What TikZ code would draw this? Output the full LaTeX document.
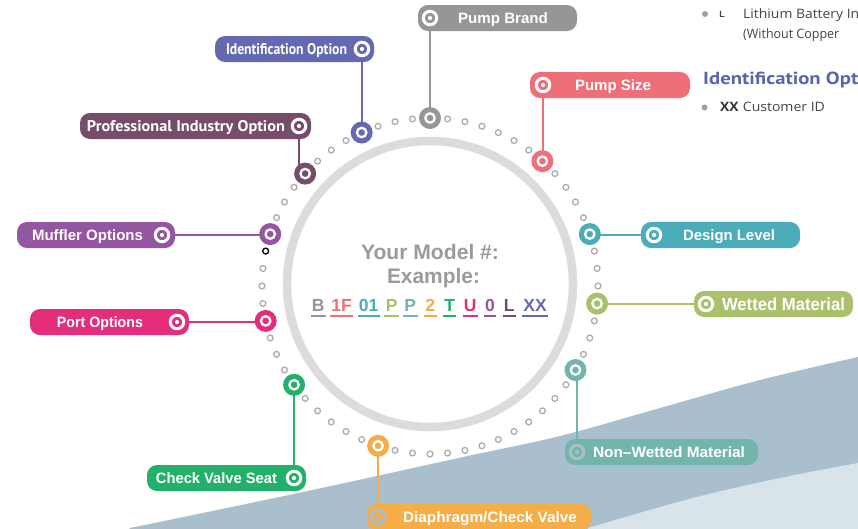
\documentclass[tikz,border=0pt]{standalone}
\usepackage{fontspec}
\usepackage{graphicx}
\setmainfont{Liberation Sans}
\newfontfamily\condf{PT Sans}
\newfontfamily\lightf{Open Sans}
\pgfdeclarelayer{bg}
\pgfdeclarelayer{mid}
\pgfsetlayers{bg,mid,main}
\definecolor{cBrand}{HTML}{969696}
\definecolor{cSize}{HTML}{EE6F78}
\definecolor{cIdent}{HTML}{6469B1}
\definecolor{cProf}{HTML}{774C69}
\definecolor{cMuff}{HTML}{9456A0}
\definecolor{cPort}{HTML}{E52E7B}
\definecolor{cDesign}{HTML}{4BACBA}
\definecolor{cWet}{HTML}{A9C16A}
\definecolor{cNonWet}{HTML}{72B6AB}
\definecolor{cDia}{HTML}{F5AD48}
\definecolor{cCheck}{HTML}{22B06B}
\definecolor{ringgray}{HTML}{DCDCDC}
\definecolor{dotgray}{HTML}{ADADAD}
\definecolor{wavedark}{HTML}{A9BFCD}
\definecolor{wavelight}{HTML}{D8E3EA}
\definecolor{txtgray}{HTML}{9B9B9B}
\definecolor{darktext}{HTML}{454545}
\definecolor{bulgray}{HTML}{A0A0A0}
\definecolor{headblue}{HTML}{5C63AF}
\newcommand\fitw[2]{\resizebox{#1pt}{\height}{#2}}
\newcommand\codeitem[4]{%
  \node[code=#2] (#1) at (#3,311.7) {#4};
  \draw[uline=#2] ([shift={(-1.2,4.3)}]#1.base west) -- ([shift={(1.2,4.3)}]#1.base east);}
\begin{document}
\begin{tikzpicture}[x=1pt,y=-1pt,
  pillbox/.style={rectangle, fill=#1, rounded corners=10pt, inner sep=0pt, minimum height=26pt},
  icon/.style={circle, inner sep=0pt, minimum size=13.5pt, line width=3pt, draw=#1,
    path picture={\fill[#1] (path picture bounding box.center) circle (2.1pt);}},
  icon/.default=white,
  marker/.style={circle, fill=#1, inner sep=0pt, minimum size=22pt,
    path picture={\draw[white, line width=2.3pt] (path picture bounding box.center) circle (4.7pt);}},
  pilltext/.style={anchor=base, inner sep=0pt, text=white, font=\bfseries\fontsize{15}{15}\selectfont},
  condtext/.style={anchor=base, inner sep=0pt, text=white, font=\condf\bfseries\fontsize{15.5}{15.5}\selectfont},
  smalldot/.style={circle, draw=#1, line width=1.3pt, minimum size=5.8pt, inner sep=0pt, fill=white},
  smalldot/.default=dotgray,
  conn/.style={draw=#1, line width=1.8pt},
  code/.style={anchor=base, inner sep=0pt, text=#1, font=\bfseries\fontsize{17.5}{17.5}\selectfont},
  uline/.style={draw=#1, line width=2pt},
  titletext/.style={anchor=base, inner sep=0pt, text=txtgray, font=\bfseries\fontsize{21}{21}\selectfont},
  sidetext/.style={anchor=base west, inner sep=0pt, text=darktext, font=\lightf\fontsize{13}{13}\selectfont},
  bullet/.style={circle, fill=bulgray, minimum size=6pt, inner sep=0pt}
]
\useasboundingbox (0,0) rectangle (858,528);

% background wave and ring
\begin{pgfonlayer}{bg}
\fill[white] (0,0) rectangle (858,528);
\fill[wavedark] plot[smooth, tension=0.6] coordinates {(130,528) (303,492) (463,457) (560,436) (660,408) (760,380) (858,357)} -- (858,540) -- (120,540) -- cycle;
\fill[wavelight] plot[smooth, tension=0.6] coordinates {(588,528) (693,498) (780,478) (858,463)} -- (858,540) -- (585,540) -- cycle;
\node[circle, draw=ringgray, line width=8.5pt, minimum size=286pt, inner sep=0pt] (ring) at (430,284) {};
\end{pgfonlayer}

% dotted circle
\foreach \a in {0,6,...,354} {
  \node[smalldot] (d\a) at ({430+168*cos(\a)},{286-168*sin(\a)}) {};
}
\node[smalldot=black] (dblack) at (d168) {};

% pills
\node[pillbox=cBrand, minimum width=159pt] (pBrand) at (497.5,18) {};
\node[icon] (iBrand) at (430,18) {};
\node[pilltext] (tBrand) at (503,23.4) {\fitw{90}{Pump Brand}};

\node[pillbox=cIdent, minimum width=159pt] (pIdent) at (294.5,49) {};
\node[icon] (iIdent) at (362,49) {};
\node[condtext] (tIdent) at (286.5,54.4) {\fitw{121}{Identification Option}};

\node[pillbox=cSize, minimum width=160pt] (pSize) at (610,85) {};
\node[icon] (iSize) at (543,85) {};
\node[pilltext] (tSize) at (613,90.4) {\fitw{76}{Pump Size}};

\node[pillbox=cProf, minimum width=231pt] (pProf) at (195.5,126) {};
\node[icon] (iProf) at (299,126) {};
\node[condtext] (tProf) at (186,131.4) {\fitw{198}{Professional Industry Option}};

\node[pillbox=cMuff, minimum width=158pt] (pMuff) at (96,235) {};
\node[icon] (iMuff) at (162,235) {};
\node[pilltext] (tMuff) at (87.5,240.4) {\fitw{111}{Muffler Options}};

\node[pillbox=cPort, minimum width=159pt] (pPort) at (109.5,322) {};
\node[icon] (iPort) at (177,322) {};
\node[pilltext] (tPort) at (100,327.4) {\fitw{86}{Port Options}};

\node[pillbox=cDesign, minimum width=159pt] (pDesign) at (720.5,235) {};
\node[icon] (iDesign) at (654,235) {};
\node[pilltext] (tDesign) at (729,240.4) {\fitw{92}{Design Level}};

\node[pillbox=cWet, minimum width=159pt] (pWet) at (773.5,304) {};
\node[icon] (iWet) at (706,304) {};
\node[pilltext, font=\bfseries\fontsize{17.5}{17.5}\selectfont] (tWet) at (783.5,310.7) {\fitw{123}{Wetted Material}};

\node[pillbox=cNonWet, minimum width=193pt] (pNonWet) at (661.5,452) {};
\node[icon=wavedark] (iNonWet) at (577,452) {};
\node[pilltext] (tNonWet) at (669,457.6) {\fitw{152}{Non\textendash Wetted Material}};

\node[pillbox=cDia, minimum width=224pt] (pDia) at (479,517) {};
\node[icon=wavedark] (iDia) at (378,517) {};
\node[pilltext] (tDia) at (490,522.4) {\fitw{174}{Diaphragm/Check Valve}};

\node[pillbox=cCheck, minimum width=159pt] (pCheck) at (226.5,478) {};
\node[icon] (iCheck) at (294,478) {};
\node[pilltext] (tCheck) at (216.5,483.4) {\fitw{121}{Check Valve Seat}};

% markers on the dotted circle
\node[marker=cBrand] (mBrand) at (d90) {};
\node[marker=cSize] (mSize) at (d48) {};
\node[marker=cDesign] (mDesign) at (d18) {};
\node[marker=cWet] (mWet) at (d354) {};
\node[marker=cNonWet] (mNonWet) at (d330) {};
\node[marker=cDia] (mDia) at (d252) {};
\node[marker=cCheck] (mCheck) at (d216) {};
\node[marker=cPort] (mPort) at (d192) {};
\node[marker=cMuff] (mMuff) at (d162) {};
\node[marker=cProf] (mProf) at (d138) {};
\node[marker=cIdent] (mIdent) at (d114) {};

% connectors
\begin{pgfonlayer}{mid}
\draw[conn=cBrand] (iBrand.center) -- (iBrand.center |- mBrand.center);
\draw[conn=cIdent] (iIdent.center) -- (iIdent.center |- mIdent.center);
\draw[conn=cSize] (iSize.center) -- (iSize.center |- mSize.center);
\draw[conn=cProf] (iProf.center) -- (iProf.center |- mProf.center);
\draw[conn=cMuff] (iMuff.center) -- (iMuff.center -| mMuff.center);
\draw[conn=cPort] (iPort.center) -- (iPort.center -| mPort.center);
\draw[conn=cDesign] (iDesign.center) -- (iDesign.center -| mDesign.center);
\draw[conn=cWet] (iWet.center) -- (iWet.center -| mWet.center);
\draw[conn=cNonWet] (iNonWet.center) -- (iNonWet.center |- mNonWet.center);
\draw[conn=cDia] (iDia.center) -- (iDia.center |- mDia.center);
\draw[conn=cCheck] (iCheck.center) -- (iCheck.center |- mCheck.center);
\end{pgfonlayer}

% centre text
\node[titletext] (title1) at (430,259) {\fitw{138}{Your Model \#:}};
\node[titletext] (title2) at (433.5,283.3) {\fitw{93}{Example:}};
\codeitem{k1}{cBrand}{318.3}{B}
\codeitem{k2}{cSize}{341.7}{1F}
\codeitem{k3}{cDesign}{368.7}{01}
\codeitem{k4}{cWet}{391.7}{P}
\codeitem{k5}{cNonWet}{410.3}{P}
\codeitem{k6}{cDia}{430.3}{2}
\codeitem{k7}{cCheck}{449.7}{T}
\codeitem{k8}{cPort}{470.3}{U}
\codeitem{k9}{cMuff}{490}{0}
\codeitem{k10}{cProf}{509.3}{L}
\codeitem{k11}{cIdent}{535}{XX}

% side text (top right)
\node[bullet] (b1) at (705,14) {};
\node[anchor=base, inner sep=0pt, text=darktext, font=\bfseries\fontsize{9}{9}\selectfont] (sL) at (722,17.7) {L};
\node[sidetext] (s1) at (743,18.3) {\fitw{116}{Lithium Battery In}};
\node[sidetext] (s2) at (743,38.3) {\fitw{96}{(Without Copper}};
\node[anchor=base west, inner sep=0pt, text=headblue, font=\condf\bfseries\fontsize{17.5}{17.5}\selectfont] (sHead) at (703,84.3) {\fitw{155}{Identification Opt}ion};
\node[bullet] (b2) at (704.5,107.5) {};
\node[anchor=base west, inner sep=0pt, text=black!80, font=\lightf\bfseries\fontsize{13}{13}\selectfont] (sXX) at (720,111) {\fitw{18.5}{XX}};
\node[sidetext] (sCust) at (742.7,111) {\fitw{82}{Customer ID}};
\end{tikzpicture}
\end{document}
